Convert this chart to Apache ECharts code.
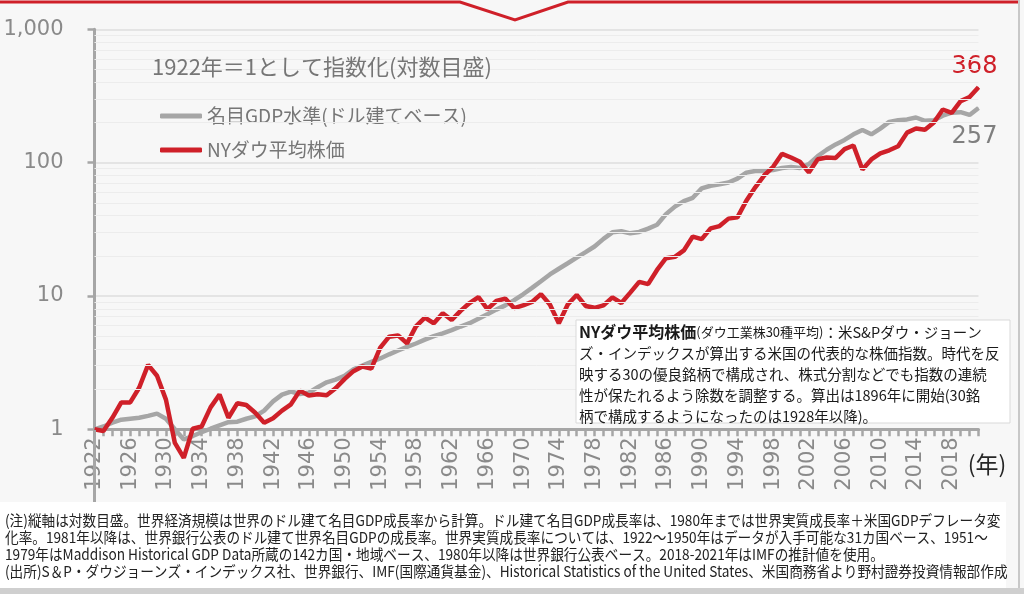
<!DOCTYPE html>
<html>
<head>
<meta charset="utf-8">
<script src="https://cdn.jsdelivr.net/npm/echarts@6.0.0/dist/echarts.min.js"></script>
<style>
  html, body { margin: 0; padding: 0; background: #f7f7f7; }
  #chart { width: 1024px; height: 594px; }
</style>
</head>
<body>
<div id="chart"></div>
<script>
// categories: one per year, 1922..2021
const years = Array.from({ length: 100 }, (_, i) => String(1922 + i));

// world nominal GDP (dollar based), 1922 = 1
const gdpIndex = [
  1.00, 1.05, 1.12, 1.18, 1.20, 1.22, 1.26, 1.31, 1.20, 1.00,
  0.84, 0.89, 0.95, 1.01, 1.07, 1.13, 1.14, 1.20, 1.25, 1.38,
  1.62, 1.82, 1.92, 1.84, 1.88, 2.07, 2.25, 2.36, 2.52, 2.82,
  3.00, 3.20, 3.40, 3.65, 3.90, 4.15, 4.40, 4.70, 5.00, 5.25,
  5.55, 5.90, 6.25, 6.75, 7.30, 7.90, 8.50, 9.30, 10.3, 11.5,
  12.9, 14.5, 16.0, 17.6, 19.4, 21.3, 23.5, 26.8, 30.0, 30.6,
  29.5, 30.2, 32.0, 34.2, 41.1, 46.8, 51.4, 54.5, 64.1, 67.1,
  68.9, 70.9, 75.9, 84.2, 86.6, 86.6, 88.0, 91.2, 92.9, 91.2,
  97.4, 112, 125, 137, 148, 163, 176, 163, 180, 202,
  208, 211, 218, 206, 208, 225, 237, 239, 228, 257
];

// NY Dow average, 1922 = 1
const dowIndex = [
  1.00, 0.97, 1.22, 1.59, 1.59, 2.05, 3.04, 2.52, 1.67, 0.79,
  0.61, 1.01, 1.05, 1.46, 1.82, 1.22, 1.57, 1.52, 1.33, 1.12,
  1.21, 1.38, 1.54, 1.95, 1.79, 1.83, 1.80, 2.03, 2.38, 2.73,
  2.96, 2.85, 4.10, 4.95, 5.06, 4.41, 5.91, 6.88, 6.24, 7.41,
  6.60, 7.73, 8.85, 9.82, 7.96, 9.17, 9.56, 8.11, 8.50, 9.02,
  10.33, 8.62, 6.24, 8.63, 10.18, 8.42, 8.15, 8.50, 9.76, 8.86,
  10.60, 12.75, 12.27, 15.67, 19.20, 19.64, 21.96, 27.89, 26.68, 32.10,
  33.44, 38.02, 38.84, 51.83, 65.31, 80.10, 93.00, 116.45, 109.26, 101.50,
  84.49, 105.88, 109.22, 108.55, 126.23, 134.35, 88.89, 105.62, 117.26, 123.75,
  132.73, 167.90, 180.52, 176.49, 200.17, 250.37, 236.28, 289.06, 310.00, 368.06
];

// faint log grid lines between decades
const minorLevels = [2, 3, 4, 5, 6, 7, 8, 9, 20, 30, 40, 50, 60, 70, 80, 90,
  200, 300, 400, 500, 600, 700, 800, 900];

const gdpName = '名目GDP水準(ドル建てベース)';
const dowName = 'NYダウ平均株価';
const titleText = '1922年＝1として指数化(対数目盛)';

const noteLines = [
  '(注)縦軸は対数目盛。世界経済規模は世界のドル建て名目GDP成長率から計算。ドル建て名目GDP成長率は、1980年までは世界実質成長率＋米国GDPデフレータ変',
  '化率。1981年以降は、世界銀行公表のドル建て世界名目GDPの成長率。世界実質成長率については、1922～1950年はデータが入手可能な31カ国ベース、1951～',
  '1979年はMaddison Historical GDP Data所蔵の142カ国・地域ベース、1980年以降は世界銀行公表ベース。2018-2021年はIMFの推計値を使用。',
  '(出所)S＆P・ダウジョーンズ・インデックス社、世界銀行、IMF(国際通貨基金)、Historical Statistics of the United States、米国商務省より野村證券投資情報部作成'
];

const boxText = [
  '{b|NYダウ平均株価}{s|(ダウ工業株30種平均)}{n|：米S&Pダウ・ジョーン}',
  '{n|ズ・インデックスが算出する米国の代表的な株価指数。時代を反}',
  '{n|映する30の優良銘柄で構成され、株式分割などでも指数の連続}',
  '{n|性が保たれるよう除数を調整する。算出は1896年に開始(30銘}',
  '{n|柄で構成するようになったのは1928年以降)。}'
].join('\n');

const JP = '"Noto Sans CJK JP", "Noto Sans", sans-serif';
const NUM = '"DejaVu Sans", sans-serif';
const RED = '#cf2029';
const GRAY = '#a6a6a6';
const TXT = '#767676';

function withEndLabel(values, label) {
  const last = values.length - 1;
  return values.map((v, i) => i === last
    ? { value: v, symbol: 'circle', symbolSize: 1, label: label }
    : v);
}

const chart = echarts.init(document.getElementById('chart'));

chart.setOption({
  animation: false,
  backgroundColor: '#f7f7f7',
  title: {
    text: titleText,
    left: 152,
    top: 56,
    padding: 0,
    textStyle: { fontFamily: JP, fontSize: 22, fontWeight: 'normal', color: TXT }
  },
  legend: {
    orient: 'vertical',
    left: 155,
    top: 101,
    itemWidth: 42,
    itemHeight: 5,
    itemGap: 14,
    icon: 'roundRect',
    selectedMode: false,
    data: [gdpName, dowName],
    textStyle: { fontFamily: JP, fontSize: 19, lineHeight: 20, color: TXT }
  },
  grid: {
    left: 94.5,
    right: 45.5,
    top: 29.3,
    bottom: 164.7,
    containLabel: false,
    outerBoundsMode: 'none'
  },
  xAxis: {
    type: 'category',
    data: years,
    boundaryGap: false,
    axisLine: { lineStyle: { color: GRAY, width: 3 } },
    axisTick: { interval: 0, length: 7, lineStyle: { color: GRAY, width: 2.5 } },
    axisLabel: {
      interval: 3, rotate: 90, margin: 8,
      color: '#8a8a8a', fontFamily: NUM, fontSize: 21
    },
    splitLine: { show: false }
  },
  yAxis: {
    type: 'log',
    logBase: 10,
    min: 1,
    max: 1000,
    axisLine: { show: true, lineStyle: { color: GRAY, width: 3 } },
    axisTick: { show: true, length: 7, lineStyle: { color: GRAY, width: 2.5 } },
    axisLabel: {
      margin: 31, color: '#8a8a8a', fontFamily: NUM, fontSize: 21,
      formatter: v => Number(v).toLocaleString('en-US')
    },
    splitLine: { lineStyle: { color: '#dedede', width: 1.5 } }
  },
  series: [
    {
      type: 'line',
      data: [],
      z: 1,
      silent: true,
      markLine: {
        silent: true,
        symbol: ['none', 'none'],
        label: { show: false },
        lineStyle: { color: '#ececec', width: 1, type: 'solid' },
        data: minorLevels.map(v => ({ yAxis: v }))
      }
    },
    {
      name: gdpName,
      type: 'line',
      z: 3,
      clip: false,
      symbol: 'none',
      showAllSymbol: true,
      color: GRAY,
      lineStyle: { color: GRAY, width: 4.5 },
      data: withEndLabel(gdpIndex, {
        show: true, position: 'bottom', distance: 16, offset: [-4, 0],
        formatter: p => Math.round(p.value),
        color: '#7f7f7f', fontFamily: NUM, fontSize: 24
      })
    },
    {
      name: dowName,
      type: 'line',
      z: 4,
      clip: false,
      symbol: 'none',
      showAllSymbol: true,
      color: RED,
      lineStyle: { color: RED, width: 4.5 },
      data: withEndLabel(dowIndex, {
        show: true, position: 'top', distance: 8, offset: [-4, 0],
        formatter: p => Math.round(p.value),
        color: RED, fontFamily: NUM, fontSize: 24
      })
    }
  ],
  graphic: [
    // card frame: red top rule with notch, right edge, bottom shadow
    {
      type: 'polyline', z: 20,
      shape: { points: [[0, 2], [460, 2], [515, 20], [568, 2], [1019, 2]] },
      style: { stroke: RED, lineWidth: 3, fill: null }
    },
    {
      type: 'line', z: 20,
      shape: { x1: 1019, y1: 0, x2: 1019, y2: 590 },
      style: { stroke: '#c8c8c8', lineWidth: 2 }
    },
    {
      type: 'rect', z: 20,
      shape: { x: 0, y: 588, width: 1024, height: 6 },
      style: { fill: '#cfcfcf' }
    },
    // y axis runs on below the x axis
    {
      type: 'line', z: 5,
      shape: { x1: 94.5, y1: 430, x2: 94.5, y2: 502 },
      style: { stroke: GRAY, lineWidth: 3 }
    },
    {
      type: 'text', z: 5,
      x: 987, y: 464,
      style: {
        text: '(年)', fontFamily: JP, fontSize: 23, fill: '#262626',
        align: 'center', verticalAlign: 'middle'
      }
    },
    // note box
    {
      type: 'rect', z: 10,
      shape: { x: 576, y: 320, width: 434, height: 103 },
      style: { fill: '#ffffff', stroke: '#d9d9d9', lineWidth: 1 }
    },
    {
      type: 'text', z: 11,
      x: 579, y: 321.5,
      style: {
        text: boxText,
        fill: '#1a1a1a',
        fontFamily: JP,
        verticalAlign: 'top',
        rich: {
          b: { fontFamily: JP, fontSize: 16, fontWeight: 'bold', lineHeight: 21, fill: '#1a1a1a' },
          s: { fontFamily: JP, fontSize: 13, lineHeight: 21, fill: '#1a1a1a' },
          n: { fontFamily: JP, fontSize: 14.5, lineHeight: 21, fill: '#1a1a1a' }
        }
      }
    },
    // footnote panel
    {
      type: 'rect', z: 10,
      shape: { x: 0, y: 502, width: 1006, height: 86 },
      style: { fill: '#ffffff' }
    },
    {
      type: 'text', z: 11,
      x: 5, y: 511.5,
      scaleX: 0.91,
      style: {
        text: noteLines.join('\n'),
        fontFamily: JP, fontSize: 15, lineHeight: 17, fill: '#222222',
        verticalAlign: 'top'
      }
    }
  ]
});

window.addEventListener('resize', () => chart.resize(), { passive: true });
</script>
</body>
</html>
